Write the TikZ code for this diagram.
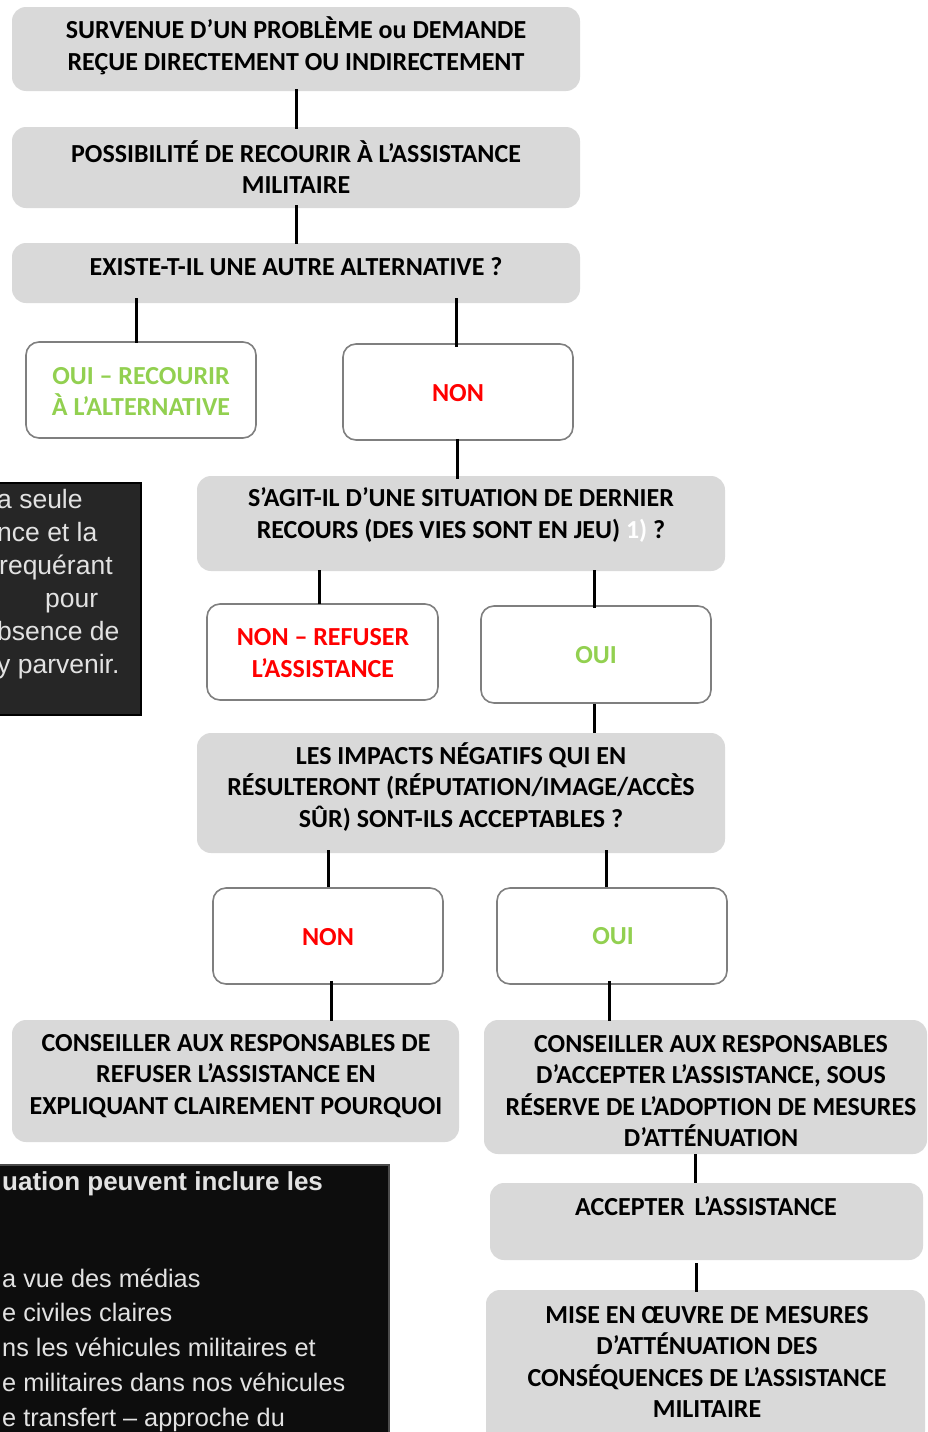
\documentclass[tikz,border=0pt]{standalone}
\usepackage{fontspec}
\setmainfont{Carlito}
\newfontfamily\arialf{Liberation Sans}
\definecolor{boxgrey}{HTML}{D9D9D9}
\definecolor{okgreen}{HTML}{92D050}
\definecolor{nored}{HTML}{FF0000}
\definecolor{edgegrey}{HTML}{7F7F7F}
\definecolor{darkA}{HTML}{262626}
\definecolor{darkB}{HTML}{0D0D0D}
\definecolor{notetext}{HTML}{E2E2E2}
\tikzset{
  greybox/.style={fill=boxgrey, draw=none, rounded corners=14, inner sep=0},
  whitebox/.style={fill=white, draw=edgegrey, line width=1.6, rounded corners=13, inner sep=0},
  lbl/.style={font=\bfseries\fontsize{26}{31.5}\selectfont, align=center, inner sep=0},
  notebox/.style={draw=black, line width=2, inner sep=0},
  notetxt/.style={font=\arialf\fontsize{26.5}{33}\selectfont, text=notetext, align=left, inner sep=0},
  conn/.style={line width=3, black}
}
\begin{document}
\begin{tikzpicture}[x=1pt,y=-1pt]
\useasboundingbox (0,0) rectangle (928,1432);
% note boxes
\node[notebox, fill=darkA, minimum width=155, minimum height=232] (na) at (63.5,599) {};
\node[notetxt, anchor=base west] (nat) at (-3,673) {a seule\\nce et la\\\hspace*{2pt}requérant\\\hspace*{48pt}pour\\bsence de\\y parvenir.};
\node[notebox, fill=darkB, draw=black!70, line width=1.2, minimum width=404, minimum height=290] (nb) at (187,1310) {};
\node[notetxt, anchor=base west, font=\arialf\fontsize{25.3}{34.7}\selectfont] (nbt) at (2,1426) {{\fontsize{26}{34.7}\selectfont\textbf{uation peuvent inclure les}}\\[62pt]a vue des médias\\e civiles claires\\ns les véhicules militaires et\\e militaires dans nos véhicules\\e transfert – approche du};
% boxes
\node[greybox, minimum width=568, minimum height=84] (n1) at (296,49) {};
\node[greybox, minimum width=568, minimum height=81] (n2) at (296,167.5) {};
\node[greybox, minimum width=568, minimum height=60] (n3) at (296,273) {};
\node[whitebox, minimum width=230, minimum height=96] (n4) at (141,390) {};
\node[whitebox, minimum width=230, minimum height=96] (n5) at (458,392) {};
\node[greybox, minimum width=528, minimum height=95] (n6) at (461,523.5) {};
\node[whitebox, minimum width=231, minimum height=96] (n7) at (322.5,652) {};
\node[whitebox, minimum width=230, minimum height=97] (n8) at (596,654.5) {};
\node[greybox, minimum width=528, minimum height=120] (n9) at (461,793) {};
\node[whitebox, minimum width=230, minimum height=96] (n10) at (328,936) {};
\node[whitebox, minimum width=230, minimum height=96] (n11) at (612,936) {};
\node[greybox, minimum width=447, minimum height=122] (n12) at (235.5,1081) {};
\node[greybox, minimum width=443, minimum height=134] (n13) at (705.5,1087) {};
\node[greybox, minimum width=433, minimum height=77] (n14) at (706.5,1221.5) {};
\node[greybox, minimum width=439, minimum height=155] (n15) at (705.5,1367.5) {};
% texts
\node[lbl] (t1) at (296,46) {SURVENUE D’UN PROBLÈME ou DEMANDE\\REÇUE DIRECTEMENT OU INDIRECTEMENT};
\node[lbl] (t2) at (296,167) {POSSIBILITÉ DE RECOURIR À L’ASSISTANCE\\MILITAIRE};
\node[lbl] (t3) at (296,267) {EXISTE-T-IL UNE AUTRE ALTERNATIVE ?};
\node[lbl, text=okgreen] (t4) at (141,391.5) {OUI – RECOURIR\\À L’ALTERNATIVE};
\node[lbl, text=nored] (t5) at (458,393) {NON};
\node[lbl] (t6) at (461,515) {S’AGIT-IL D’UNE SITUATION DE DERNIER\\RECOURS (DES VIES SONT EN JEU) \textcolor{white}{1)} ?};
\node[lbl, text=nored] (t7) at (323,653) {NON – REFUSER\\L’ASSISTANCE};
\node[lbl, text=okgreen] (t8) at (596,655) {OUI};
\node[lbl] (t9) at (461,787) {LES IMPACTS NÉGATIFS QUI EN\\RÉSULTERONT (RÉPUTATION/IMAGE/ACCÈS\\SÛR) SONT-ILS ACCEPTABLES ?};
\node[lbl, text=nored] (t10) at (328,937) {NON};
\node[lbl, text=okgreen] (t11) at (613,936) {OUI};
\node[lbl] (t12) at (236,1076) {CONSEILLER AUX RESPONSABLES DE\\REFUSER L’ASSISTANCE EN\\EXPLIQUANT CLAIREMENT POURQUOI};
\node[lbl] (t13) at (711,1091) {CONSEILLER AUX RESPONSABLES\\D’ACCEPTER L’ASSISTANCE, SOUS\\RÉSERVE DE L’ADOPTION DE MESURES\\D’ATTÉNUATION};
\node[lbl] (t14) at (706,1206) {ACCEPTER\hspace{4pt} L’ASSISTANCE};
\node[lbl] (t15) at (707,1362) {MISE EN ŒUVRE DE MESURES\\D’ATTÉNUATION DES\\CONSÉQUENCES DE L’ASSISTANCE\\MILITAIRE};
% connectors
\draw[conn] ([yshift=2]n1.south) -- ([yshift=-2]n1.south |- n2.north);
\draw[conn] ([yshift=3]n2.south) -- ([yshift=-1]n2.south |- n3.north);
\draw[conn] ([xshift=-5,yshift=5]n4.north |- n3.south) -- ([xshift=-5,yshift=-2]n4.north);
\draw[conn] ([xshift=-2,yshift=5]n5.north |- n3.south) -- ([xshift=-2,yshift=-4]n5.north);
\draw[conn] ([xshift=-1,yshift=2]n5.south) -- ([xshift=-1,yshift=-3]n5.south |- n6.north);
\draw[conn] ([xshift=-3,yshift=1]n7.north |- n6.south) -- ([xshift=-3,yshift=-1]n7.north);
\draw[conn] ([xshift=-2,yshift=1]n8.north |- n6.south) -- ([xshift=-2,yshift=-3]n8.north);
\draw[conn] ([xshift=-2]n8.south) -- ([xshift=-2]n8.south |- n9.north);
\draw[conn] ([yshift=3]n10.north |- n9.south) -- ([yshift=0]n10.north);
\draw[conn] ([xshift=-6,yshift=3]n11.north |- n9.south) -- ([xshift=-6]n11.north);
\draw[conn] ([xshift=3,yshift=4]n10.south) -- ([xshift=3,yshift=-1]n10.south |- n12.north);
\draw[conn] ([xshift=-3,yshift=4]n11.south) -- ([xshift=-3,yshift=-1]n11.south |- n13.north);
\draw[conn] ([xshift=-10]n13.south) -- ([xshift=-10]n13.south |- n14.north);
\draw[conn] ([xshift=-10,yshift=-3]n14.south) -- ([xshift=-10,yshift=-2]n14.south |- n15.north);
\end{tikzpicture}
\end{document}
